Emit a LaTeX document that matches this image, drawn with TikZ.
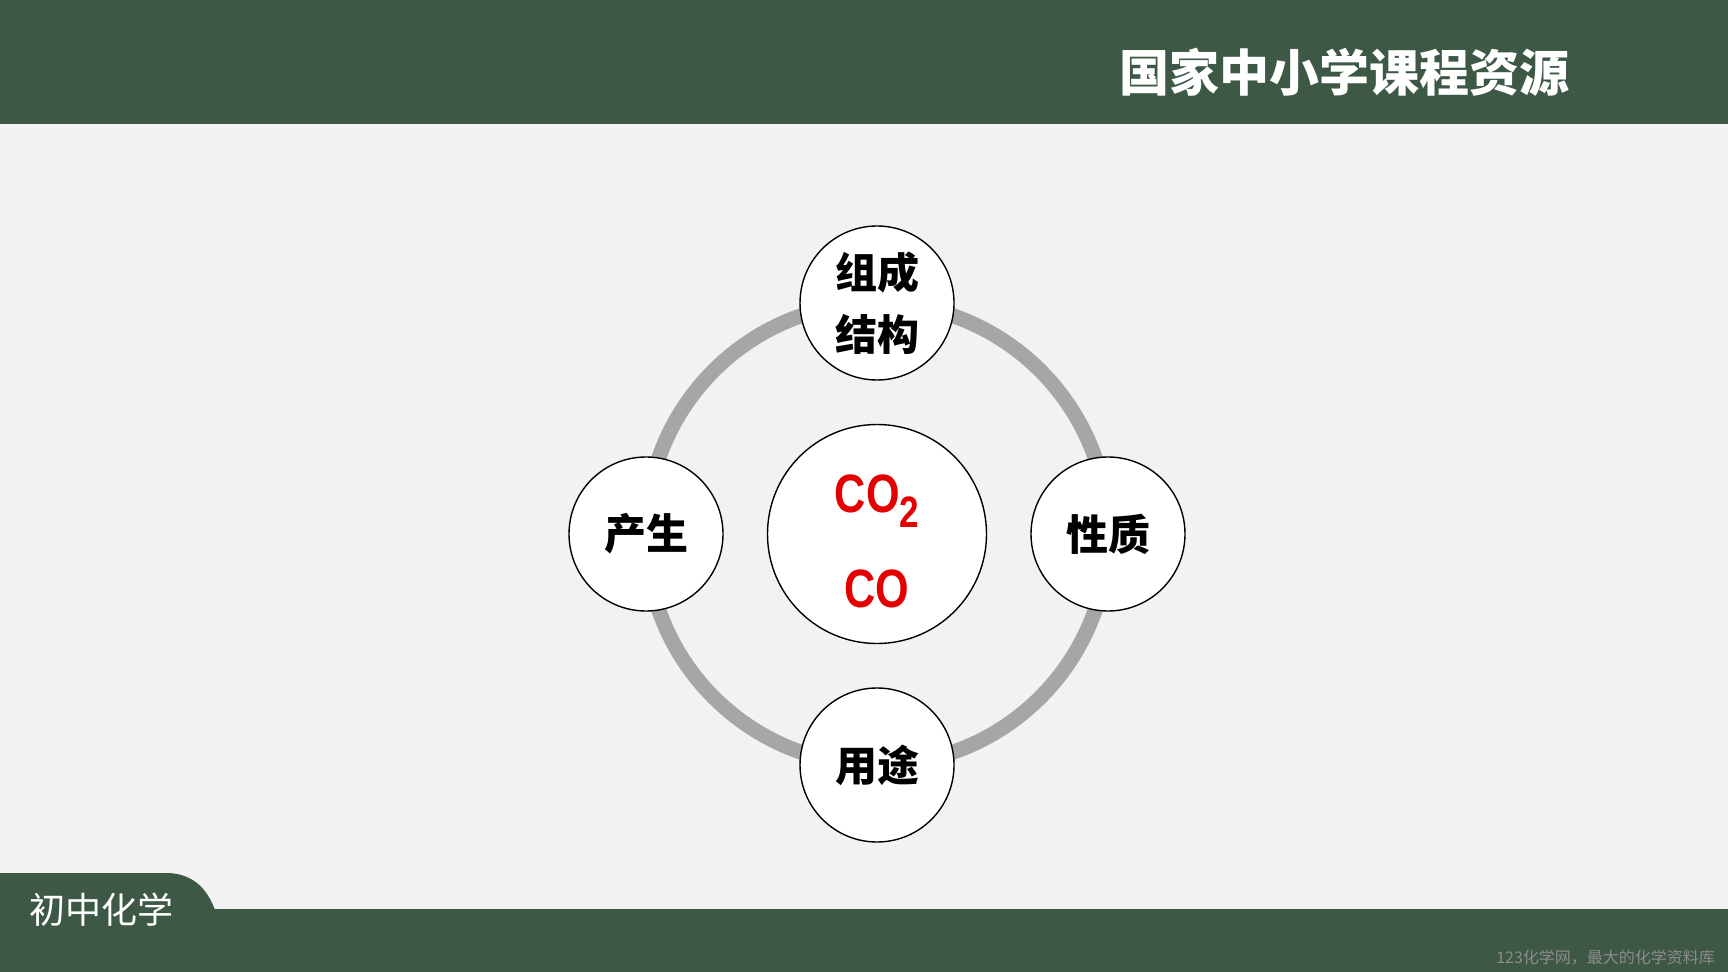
\documentclass[tikz,border=0pt]{standalone}
\usepackage{fontspec}
\setmainfont{Liberation Sans}
\newfontfamily\cjk{Noto Sans CJK SC}
\newfontfamily\narrow[FakeStretch=0.8]{Liberation Sans}
\usetikzlibrary{shapes,arrows}
\definecolor{bargreen}{RGB}{61,89,69}
\definecolor{pagegray}{RGB}{242,242,242}
\definecolor{ringgray}{RGB}{166,166,166}
\definecolor{formred}{RGB}{228,0,0}
\definecolor{notegray}{RGB}{140,140,140}
\tikzstyle{topic} = [circle, draw=black, line width=0.7pt, fill=white, minimum size=77pt, inner sep=0pt, align=center, font=\cjk\bfseries\fontsize{21}{31}\selectfont]
\tikzstyle{core} = [circle, draw=black, line width=0.7pt, fill=white, minimum size=109.5pt, inner sep=0pt, align=center, text=formred, font=\narrow\bfseries\fontsize{27}{47.5}\selectfont]
\tikzstyle{ring} = [line width=7.5pt, draw=ringgray]
\tikzstyle{band} = [fill=bargreen]

\begin{document}
\begin{tikzpicture}[x=0.5pt, y=0.5pt, node distance=115.5pt]

% page and bars
\fill[pagegray] (0,0) rectangle (1728,-972);
\useasboundingbox (0,0) rectangle (1728,-972);
\fill[band] (0,0) rectangle (1728,-124);
\fill[band] (0,-909) rectangle (1728,-972);
\fill[band] (0,-910) -- (0,-873) -- (166,-873) .. controls (192,-873) and (207,-888) .. (215,-910) -- cycle;

\node (title) at (1344,-72) [text=white, font=\cjk\bfseries\fontsize{25}{25}\selectfont] {国家中小学课程资源};
\node (subject) at (101,-910) [text=white, font=\cjk\fontsize{18}{18}\selectfont] {初中化学};
\node (source) at (1722,-958) [anchor=east, text=notegray, font=\cjk\fontsize{8}{8}\selectfont] {123化学网，最大的化学资料库};

% cycle
\node (core) at (877,-534) [core] {\rule{0pt}{26pt}CO\raisebox{-7.5pt}{\fontsize{22}{22}\selectfont 2}\\CO};
\draw [ring] (core.center) circle (115.5pt);

\node (structure) [topic, above of=core] {组成\\结构};
\node (property) [topic, right of=core] {性质};
\node (usage) [topic, below of=core] {用途};
\node (origin) [topic, left of=core] {产生};

\end{tikzpicture}
\end{document}
